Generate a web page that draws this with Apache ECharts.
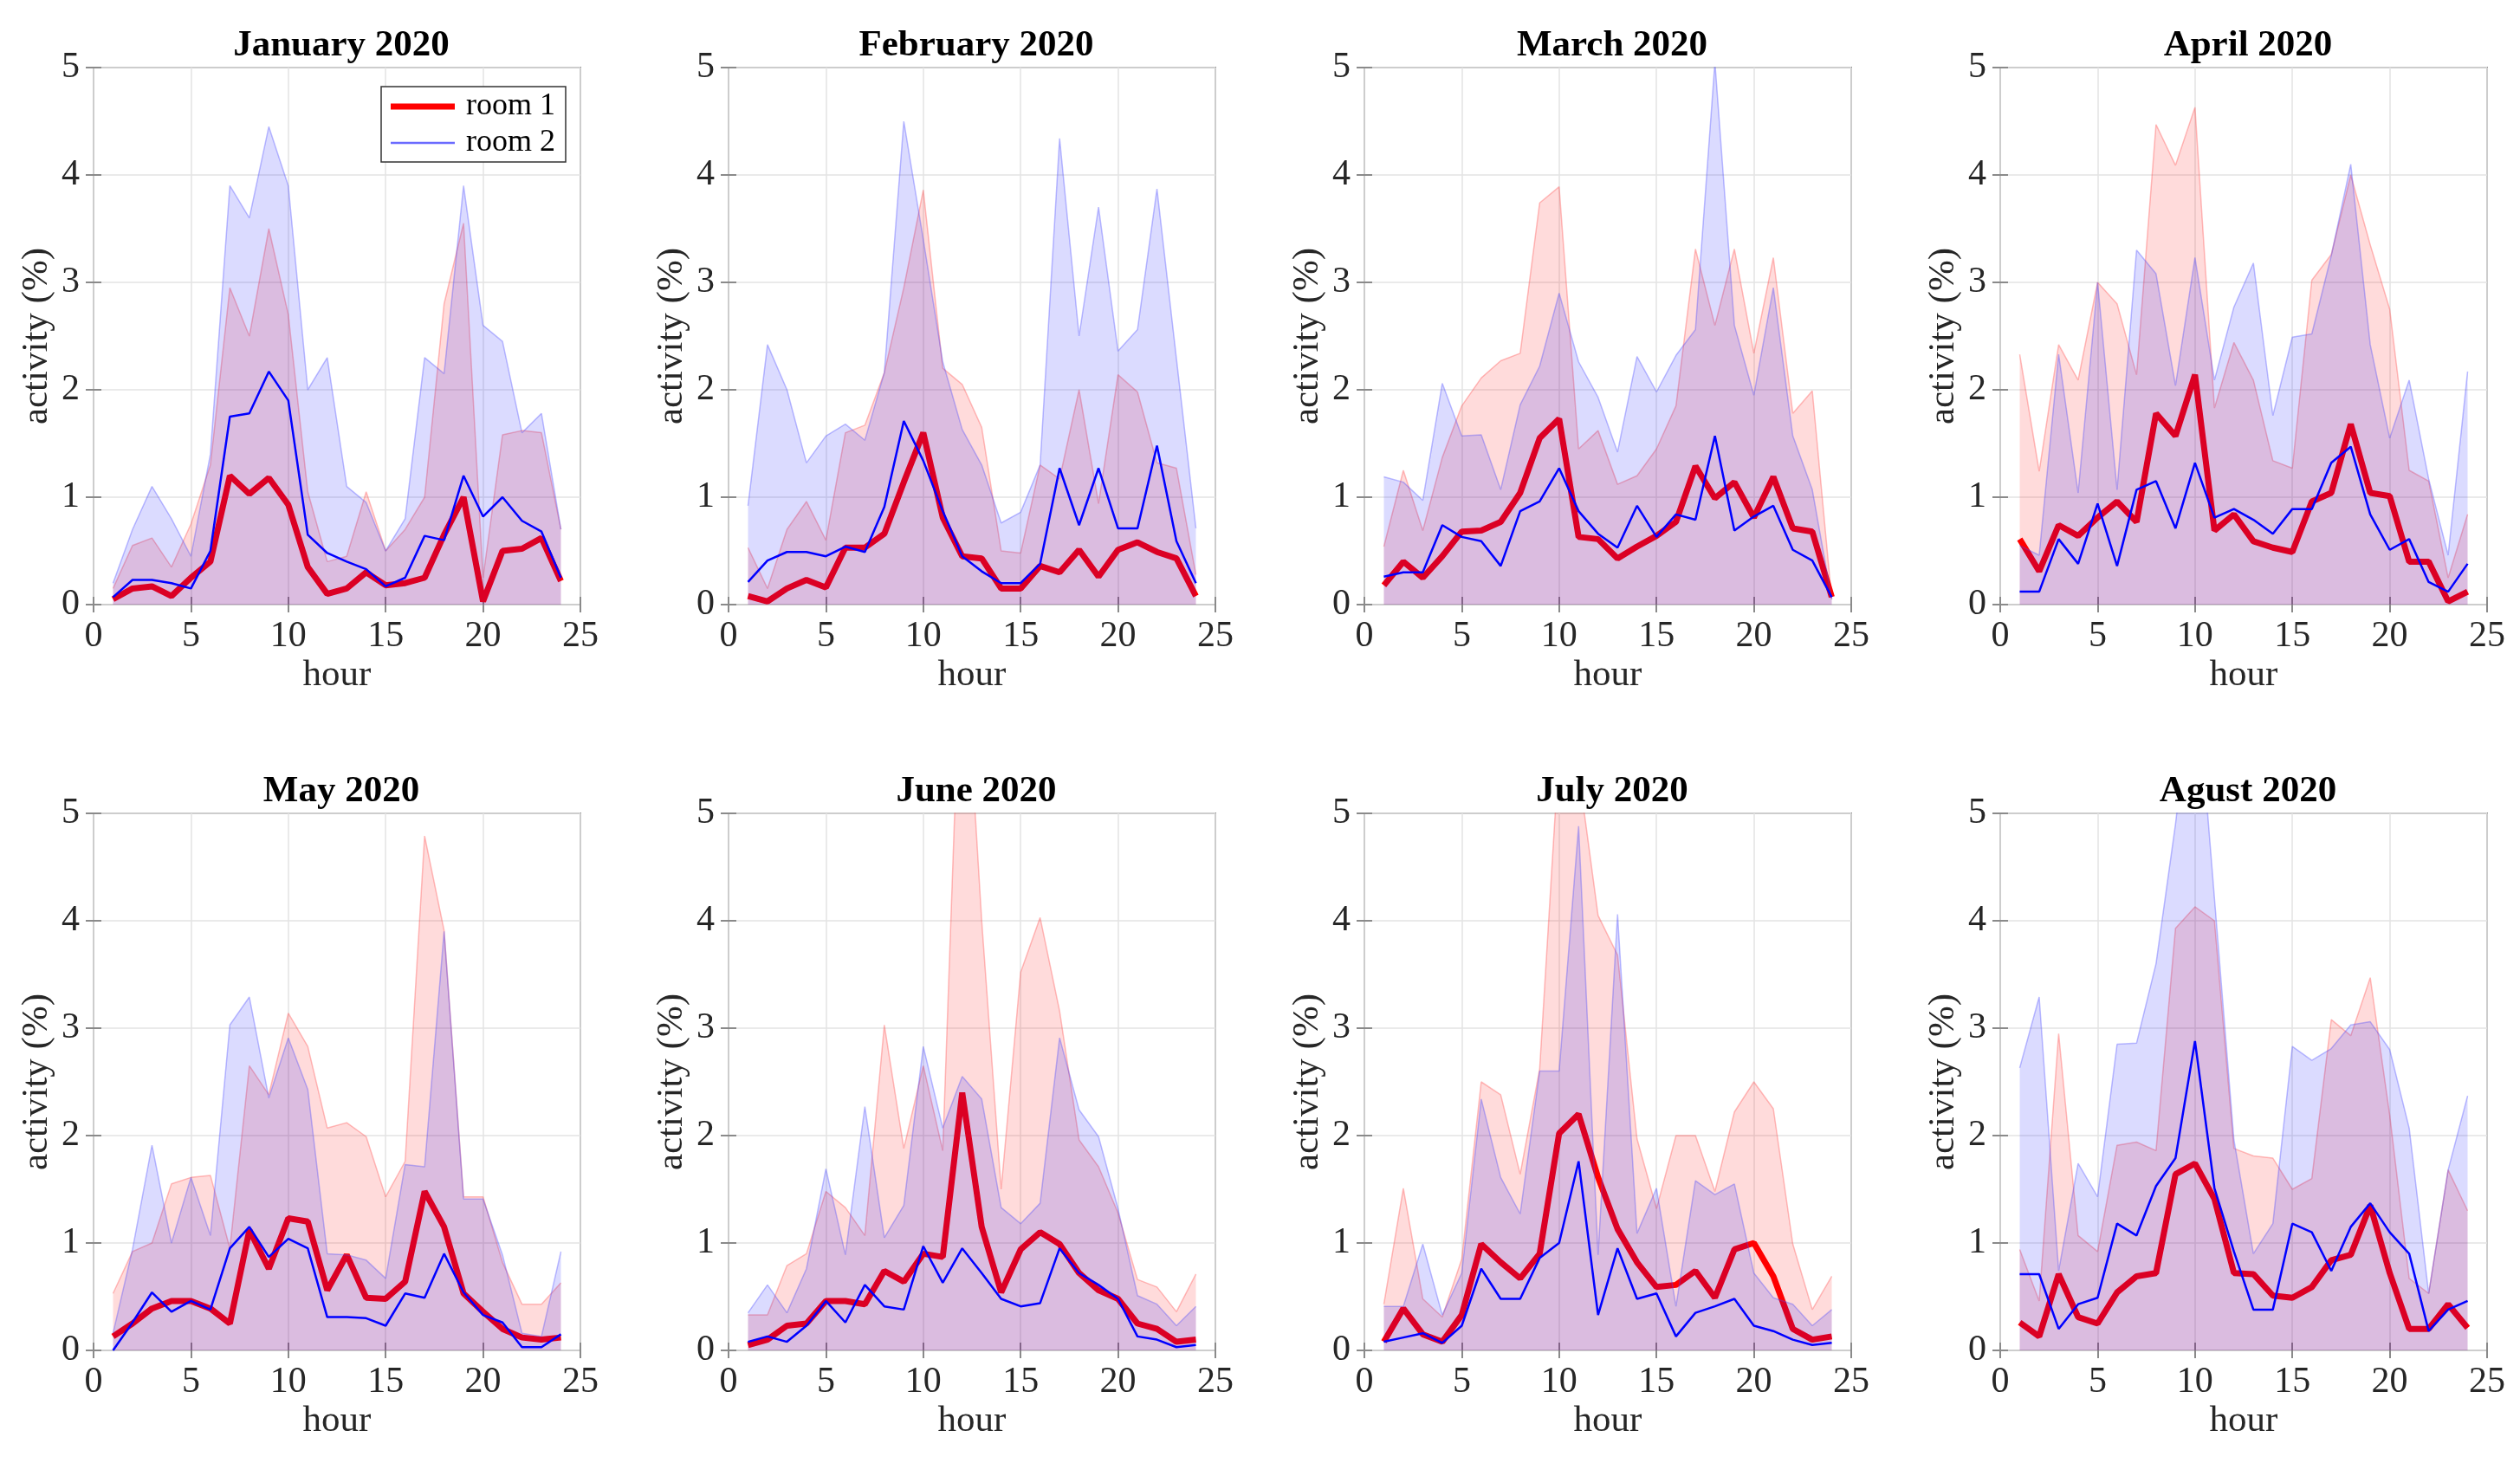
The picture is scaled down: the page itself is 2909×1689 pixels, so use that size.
<!DOCTYPE html>
<html><head><meta charset="utf-8">
<script src="https://cdn.jsdelivr.net/npm/echarts@6/dist/echarts.min.js"></script>
<style>html,body{margin:0;padding:0;background:#fff}#c{width:2909px;height:1689px}</style>
</head><body><div id="c"></div>
<script>
// ---------- data ----------
const hours = [1,2,3,4,5,6,7,8,9,10,11,12,13,14,15,16,17,18,19,20,21,22,23,24];
const xTicks = [0,5,10,15,20,25];
const yTicks = [0,1,2,3,4,5];
const monthTitles = ['January 2020','February 2020','March 2020','April 2020','May 2020','June 2020','July 2020','Agust 2020'];

const jan_room1       = [0.05,0.15,0.17,0.08,0.25,0.4,1.2,1.03,1.18,0.93,0.35,0.1,0.15,0.3,0.18,0.2,0.25,0.65,1.0,0.03,0.5,0.52,0.62,0.22];
const jan_room2       = [0.07,0.23,0.23,0.2,0.15,0.5,1.75,1.78,2.17,1.9,0.65,0.48,0.4,0.33,0.17,0.25,0.64,0.6,1.2,0.82,1.0,0.78,0.68,0.25];
const jan_room1_upper = [0.15,0.55,0.62,0.35,0.75,1.3,2.95,2.5,3.5,2.7,1.05,0.4,0.45,1.05,0.5,0.7,1.0,2.8,3.55,0.25,1.58,1.62,1.6,0.7];
const jan_room2_upper = [0.2,0.7,1.1,0.8,0.45,1.4,3.9,3.6,4.45,3.9,2.0,2.3,1.1,0.95,0.5,0.8,2.3,2.15,3.9,2.6,2.45,1.6,1.78,0.7];

const feb_room1       = [0.08,0.03,0.15,0.23,0.16,0.53,0.53,0.66,1.14,1.6,0.81,0.45,0.43,0.15,0.15,0.36,0.3,0.51,0.26,0.51,0.58,0.49,0.43,0.08];
const feb_room2       = [0.21,0.41,0.49,0.49,0.45,0.54,0.49,0.91,1.71,1.34,0.87,0.45,0.31,0.2,0.2,0.38,1.27,0.74,1.27,0.71,0.71,1.48,0.59,0.2];
const feb_room1_upper = [0.53,0.15,0.7,0.96,0.6,1.6,1.67,2.16,2.95,3.86,2.2,2.05,1.65,0.5,0.48,1.3,1.17,2.0,0.94,2.14,1.98,1.32,1.27,0.28];
const feb_room2_upper = [0.92,2.42,2.0,1.32,1.57,1.68,1.53,2.16,4.5,3.4,2.26,1.63,1.3,0.76,0.86,1.3,4.34,2.5,3.7,2.36,2.56,3.87,2.29,0.71];

const mar_room1       = [0.18,0.4,0.25,0.45,0.68,0.69,0.77,1.04,1.55,1.73,0.63,0.61,0.43,0.54,0.64,0.77,1.29,0.99,1.14,0.81,1.19,0.71,0.68,0.07];
const mar_room2       = [0.26,0.3,0.3,0.74,0.63,0.59,0.36,0.87,0.96,1.27,0.87,0.66,0.53,0.92,0.63,0.84,0.79,1.57,0.69,0.82,0.92,0.51,0.41,0.07];
const mar_room1_upper = [0.54,1.25,0.69,1.37,1.85,2.11,2.27,2.34,3.74,3.89,1.45,1.62,1.12,1.2,1.45,1.85,3.31,2.6,3.31,2.34,3.23,1.78,1.99,0.05];
const mar_room2_upper = [1.19,1.14,0.97,2.06,1.57,1.58,1.07,1.86,2.22,2.9,2.26,1.93,1.42,2.31,1.98,2.32,2.56,5.05,2.6,1.95,2.95,1.57,1.07,0.05];

const apr_room1       = [0.61,0.31,0.74,0.64,0.81,0.96,0.77,1.78,1.57,2.14,0.69,0.84,0.59,0.53,0.49,0.96,1.04,1.68,1.04,1.01,0.4,0.4,0.03,0.12];
const apr_room2       = [0.12,0.12,0.61,0.38,0.94,0.36,1.07,1.15,0.71,1.32,0.81,0.89,0.79,0.66,0.89,0.89,1.32,1.47,0.84,0.51,0.61,0.21,0.12,0.38];
const apr_room1_upper = [2.33,1.24,2.42,2.09,3.0,2.8,2.14,4.47,4.09,4.63,1.83,2.44,2.09,1.34,1.27,3.02,3.26,4.0,3.35,2.75,1.25,1.15,0.25,0.84];
const apr_room2_upper = [0.55,0.46,2.33,1.04,3.0,1.07,3.3,3.08,2.04,3.23,2.09,2.77,3.18,1.76,2.49,2.52,3.25,4.1,2.42,1.55,2.09,1.17,0.46,2.17];

const may_room1       = [0.13,0.25,0.39,0.46,0.46,0.39,0.25,1.12,0.76,1.23,1.2,0.56,0.89,0.49,0.48,0.64,1.48,1.15,0.53,0.36,0.2,0.12,0.1,0.12];
const may_room2       = [0.0,0.26,0.54,0.36,0.46,0.38,0.95,1.15,0.87,1.04,0.95,0.31,0.31,0.3,0.23,0.53,0.49,0.9,0.54,0.33,0.26,0.03,0.03,0.15];
const may_room1_upper = [0.53,0.92,1.0,1.55,1.61,1.63,0.95,2.65,2.38,3.14,2.83,2.07,2.12,1.99,1.43,1.76,4.79,3.91,1.43,1.43,0.82,0.43,0.43,0.63];
const may_room2_upper = [0.16,0.94,1.91,1.0,1.61,1.07,3.03,3.29,2.35,2.91,2.43,0.9,0.89,0.84,0.67,1.73,1.71,3.9,1.41,1.41,0.89,0.16,0.13,0.92];

const jun_room1       = [0.05,0.1,0.23,0.25,0.46,0.46,0.43,0.74,0.64,0.9,0.87,2.4,1.15,0.54,0.94,1.1,0.99,0.72,0.56,0.48,0.25,0.2,0.08,0.1];
const jun_room2       = [0.08,0.13,0.08,0.23,0.46,0.26,0.61,0.41,0.38,0.97,0.63,0.95,0.72,0.48,0.41,0.44,0.95,0.72,0.61,0.48,0.13,0.1,0.03,0.05];
const jun_room1_upper = [0.33,0.33,0.79,0.9,1.48,1.33,1.07,3.03,1.88,2.65,1.86,7.0,4.0,1.5,3.52,4.03,3.16,1.96,1.71,1.28,0.66,0.59,0.36,0.71];
const jun_room2_upper = [0.35,0.61,0.35,0.76,1.69,0.89,2.27,1.05,1.35,2.83,2.07,2.55,2.34,1.33,1.18,1.37,2.91,2.24,1.99,1.32,0.51,0.43,0.23,0.41];

const jul_room1       = [0.08,0.39,0.15,0.08,0.33,0.99,0.82,0.67,0.9,2.02,2.2,1.61,1.13,0.82,0.59,0.61,0.74,0.49,0.94,1.0,0.69,0.2,0.1,0.13];
const jul_room2       = [0.08,0.12,0.16,0.07,0.23,0.76,0.48,0.48,0.86,1.0,1.76,0.33,0.95,0.48,0.53,0.13,0.35,0.41,0.48,0.23,0.18,0.1,0.05,0.07];
const jul_room1_upper = [0.43,1.51,0.48,0.31,0.85,2.5,2.38,1.64,2.62,5.6,5.4,4.05,3.68,1.97,1.32,2.0,2.0,1.48,2.22,2.5,2.25,0.99,0.38,0.69];
const jul_room2_upper = [0.41,0.41,0.99,0.33,0.72,2.34,1.61,1.27,2.6,2.6,4.88,0.89,4.06,1.09,1.51,0.41,1.58,1.45,1.55,0.72,0.49,0.43,0.23,0.38];

const aug_room1       = [0.26,0.13,0.71,0.31,0.25,0.54,0.69,0.72,1.64,1.74,1.41,0.72,0.71,0.51,0.49,0.59,0.84,0.89,1.35,0.72,0.2,0.2,0.43,0.21];
const aug_room2       = [0.71,0.71,0.2,0.43,0.49,1.18,1.07,1.53,1.79,2.88,1.51,0.92,0.38,0.38,1.18,1.1,0.74,1.15,1.37,1.1,0.9,0.18,0.38,0.46];
const aug_room1_upper = [0.94,0.46,2.95,1.07,0.92,1.91,1.94,1.86,3.93,4.13,4.0,1.88,1.81,1.79,1.5,1.6,3.08,2.93,3.47,2.19,0.67,0.53,1.68,1.3];
const aug_room2_upper = [2.63,3.29,0.74,1.74,1.43,2.85,2.86,3.6,4.9,6.46,4.21,1.96,0.9,1.18,2.83,2.7,2.81,3.03,3.06,2.8,2.07,0.53,1.68,2.37];

const panels = [
  [jan_room1, jan_room1_upper, jan_room2, jan_room2_upper],
  [feb_room1, feb_room1_upper, feb_room2, feb_room2_upper],
  [mar_room1, mar_room1_upper, mar_room2, mar_room2_upper],
  [apr_room1, apr_room1_upper, apr_room2, apr_room2_upper],
  [may_room1, may_room1_upper, may_room2, may_room2_upper],
  [jun_room1, jun_room1_upper, jun_room2, jun_room2_upper],
  [jul_room1, jul_room1_upper, jul_room2, jul_room2_upper],
  [aug_room1, aug_room1_upper, aug_room2, aug_room2_upper]
];

// ---------- layout / style ----------
const FONT = '"Liberation Serif","DejaVu Serif",serif';
const lefts = [108, 841, 1575, 2309], tops = [78, 939], W = 562, H = 620;
const FRAME = '#8a8a8a', TXT = '#262626';

const grids = [], xAxes = [], yAxes = [], titles = [], series = [];
const pairs = arr => hours.map((h, k) => [h, arr[k]]);

panels.forEach((p, i) => {
  const col = i % 4, row = Math.floor(i / 4);
  grids.push({left: lefts[col], top: tops[row], width: W, height: H, show: true,
    borderColor: FRAME, borderWidth: 2, backgroundColor: 'transparent'});
  titles.push({text: monthTitles[i], left: lefts[col] + W / 2, top: tops[row] - 52, textAlign: 'center',
    textStyle: {fontFamily: FONT, fontSize: 43, fontWeight: 'bold', color: '#000'}});
  const common = {gridIndex: i, type: 'value'};
  xAxes.push(Object.assign({}, common, {min: xTicks[0], max: xTicks[xTicks.length-1], interval: 5, position: 'bottom',
    name: 'hour', nameLocation: 'middle', nameGap: 60,
    nameTextStyle: {fontFamily: FONT, fontSize: 43, color: TXT},
    axisLine: {show: false}, axisTick: {show: true, inside: true, length: 9, lineStyle: {color: FRAME, width: 2}},
    axisLabel: {fontFamily: FONT, fontSize: 42, color: TXT, margin: 16},
    splitLine: {show: true, lineStyle: {color: '#e3e3e3', width: 1.5}}}));
  yAxes.push(Object.assign({}, common, {min: yTicks[0], max: yTicks[yTicks.length-1], interval: 1, position: 'left',
    name: 'activity (%)', nameLocation: 'middle', nameGap: 44, nameRotate: 90,
    nameTextStyle: {fontFamily: FONT, fontSize: 43, color: TXT},
    axisLine: {show: false}, axisTick: {show: true, inside: true, length: 9, lineStyle: {color: FRAME, width: 2}},
    axisLabel: {fontFamily: FONT, fontSize: 42, color: TXT, margin: 16},
    splitLine: {show: true, lineStyle: {color: '#e3e3e3', width: 1.5}}}));

  const base = {type: 'line', xAxisIndex: i, yAxisIndex: i, symbol: 'none', showSymbol: false, silent: true, clip: true};
  // draw order: red range, red mean, blue range (tints red line), blue mean
  series.push(Object.assign({}, base, {name: 'room 1 range', z: 1, data: pairs(p[1]),
    lineStyle: {color: 'rgba(255,70,70,0.35)', width: 1.5}, areaStyle: {color: 'rgba(255,0,0,0.2)'}}));
  series.push(Object.assign({}, base, {name: 'room 1', z: 2, data: pairs(p[0]),
    lineStyle: {color: '#ff0000', width: 7}, itemStyle: {color: '#ff0000'}}));
  series.push(Object.assign({}, base, {name: 'room 2 range', z: 3, data: pairs(p[3]),
    lineStyle: {color: 'rgba(70,70,255,0.35)', width: 1.5}, areaStyle: {color: 'rgba(0,0,255,0.2)'}}));
  series.push(Object.assign({}, base, {name: 'room 2', z: 4, data: pairs(p[2]),
    lineStyle: {color: '#0000ff', width: 2.5}, itemStyle: {color: '#0000ff'}}));
});

// mirror axes (top / right) for box-style ticks
panels.forEach((p, i) => {
  xAxes.push({gridIndex: i, type: 'value', min: 0, max: 25, interval: 5, position: 'top',
    axisLine: {show: false}, axisLabel: {show: false}, splitLine: {show: false},
    axisTick: {show: true, inside: true, length: 9, lineStyle: {color: FRAME, width: 2}}});
  yAxes.push({gridIndex: i, type: 'value', min: 0, max: 5, interval: 1, position: 'right',
    axisLine: {show: false}, axisLabel: {show: false}, splitLine: {show: false},
    axisTick: {show: true, inside: true, length: 9, lineStyle: {color: FRAME, width: 2}}});
});

const chart = echarts.init(document.getElementById('c'));
chart.setOption({
  animation: false,
  backgroundColor: '#fff',
  title: titles,
  grid: grids,
  xAxis: xAxes,
  yAxis: yAxes,
  legend: {
    z: 20,
    data: [
      {name: 'room 1', icon: 'path://M0,0 M74,18 M0,5.5 L74,5.5 L74,12.5 L0,12.5 Z', itemStyle: {color: '#ff0000'}},
      {name: 'room 2', icon: 'path://M0,0 M74,18 M0,7.8 L74,7.8 L74,10.2 L0,10.2 Z', itemStyle: {color: '#6b6bff'}}
    ],
    orient: 'vertical', left: 440, top: 100,
    itemWidth: 74, itemHeight: 18, itemGap: 6, padding: [5, 12, 4, 11],
    borderColor: '#333', borderWidth: 1.5, backgroundColor: '#fff', selectedMode: false,
    textStyle: {fontFamily: FONT, fontSize: 36, color: '#000', padding: [0, 0, 0, 8]}
  },
  series: series
});
</script>
</body></html>
